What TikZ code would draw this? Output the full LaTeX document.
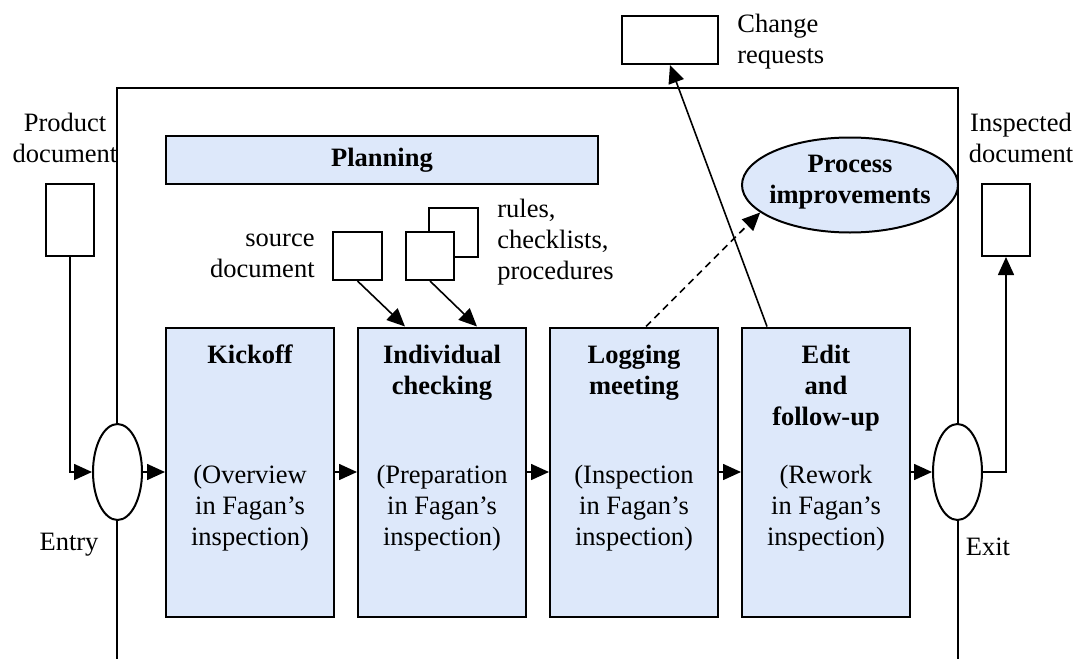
\documentclass[tikz,border=0pt]{standalone}
\usepackage{fontspec}
\setmainfont{Liberation Serif}
\usetikzlibrary{shapes.geometric,arrows.meta,positioning}

\begin{document}
\begin{tikzpicture}[x=0.5pt,y=-0.5pt,
	every node/.style={font=\fontsize{13.25}{15.5}\selectfont},
	phase/.style={draw,line width=1pt,fill=phaseblue,minimum width=84pt,minimum height=144.5pt,inner sep=0},
	phasetitle/.style={font=\fontsize{13.25}{15.5}\selectfont\bfseries,align=center,inner sep=0},
	phasenote/.style={align=center,inner sep=0},
	docbox/.style={draw,line width=1pt,fill=white,inner sep=0},
	gateway/.style={draw,ellipse,line width=1pt,fill=white,minimum width=24.5pt,minimum height=48pt,inner sep=0},
	flowarrow/.style={line width=0.8pt,-{Triangle[length=9pt,width=8pt]}}]
			\definecolor{phaseblue}{HTML}{DDE8FA}
			\useasboundingbox (0,0) rectangle (1088,659);
			% inspection frame
			\draw[line width=0.8pt] (117,659) -- (117,88) -- (958,88) -- (958,659);
			% planning
			\node[draw,line width=1pt,fill=phaseblue,minimum width=216pt,minimum height=24pt,font=\fontsize{13.25}{15.5}\selectfont\bfseries] (plan) at (382,160) {Planning};
			% phases
			\node[phase] (kick) at (250,472) {};
			\node[phase] (chk) at (442,472) {};
			\node[phase] (log) at (634,472) {};
			\node[phase] (edit) at (826,472) {};
			\node[phasetitle,below=9pt of kick.north] (kickT) {Kickoff};
			\node[phasetitle,below=9pt of chk.north] (chkT) {Individual\\checking};
			\node[phasetitle,below=9pt of log.north] (logT) {Logging\\meeting};
			\node[phasetitle,below=9pt of edit.north] (editT) {Edit\\and\\follow-up};
			\node[phasenote] (kickN) at ([yshift=-18.25pt]kick.center) {(Overview\\in Fagan's\\inspection)};
			\node[phasenote] (chkN) at ([yshift=-18.25pt]chk.center) {(Preparation\\in Fagan's\\inspection)};
			\node[phasenote] (logN) at ([yshift=-18.25pt]log.center) {(Inspection\\in Fagan's\\inspection)};
			\node[phasenote] (editN) at ([yshift=-18.25pt]edit.center) {(Rework\\in Fagan's\\inspection)};
			% entry and exit
			\node[gateway] (entry) at (117.5,472) {};
			\node[gateway] (exit) at (957.5,472) {};
			\node (entryL) at (69,545) {Entry};
			\node (exitL) at (988,547) {Exit};
			% documents
			\node[docbox,minimum width=24pt,minimum height=36pt] (pdoc) at (70,220) {};
			\node[docbox,minimum width=24pt,minimum height=36pt] (idoc) at (1006,220) {};
			\node[docbox,minimum width=24.5pt,minimum height=24pt] (src) at (357.5,256) {};
			\node[docbox,minimum width=24.5pt,minimum height=24.5pt] (rulesB) at (453.5,232.5) {};
			\node[docbox,minimum width=24pt,minimum height=24pt] (rulesF) at (430,256) {};
			\node[docbox,minimum width=48pt,minimum height=24pt] (chg) at (670,40) {};
			% process improvements
			\node[draw,ellipse,line width=1pt,fill=phaseblue,minimum width=108pt,minimum height=47.5pt,inner sep=0] (imp) at (850,185) {};
			\node[align=center,inner sep=0,font=\fontsize{13.25}{15.5}\selectfont\bfseries] (impT) at (850,182) {Process\\improvements};
			
			% labels
			\node[align=center,inner sep=0] (pdocL) at (65,138) {Product\\document};
			\node[align=center,inner sep=0] (idocL) at (1021,138) {Inspected\\document};
			\node[align=right,inner sep=0,anchor=east] (srcL) at (315,256) {source\\document};
			\node[align=left,inner sep=0,anchor=west] (rulesL) at (497,242) {rules,\\checklists,\\procedures};
			\node[align=left,inner sep=0,anchor=west] (chgL) at (737,42) {Change\\requests};
			
			% flow
			\draw[flowarrow] (pdoc.south) |- (entry.west);
			\draw[flowarrow] (entry.east) -- (kick.west);
			\draw[flowarrow] (kick.east) -- (chk.west);
			\draw[flowarrow] (chk.east) -- (log.west);
			\draw[flowarrow] (log.east) -- (edit.west);
			\draw[flowarrow] (edit.east) -- (exit.west);
			\draw[flowarrow] (exit.east) -| (idoc.south);
			% inputs and outputs
			\draw[flowarrow] (src.south) -- ([xshift=-18.5pt]chk.north);
			\draw[flowarrow] (rulesF.south) -- ([xshift=17.5pt]chk.north);
			\draw[flowarrow,dash pattern=on 3.5pt off 2.5pt] ([xshift=6pt]log.north) -- (imp.197);
			\draw[flowarrow] ([xshift=-29.5pt]edit.north) -- (chg.south);
			\end{tikzpicture}
\end{document}
